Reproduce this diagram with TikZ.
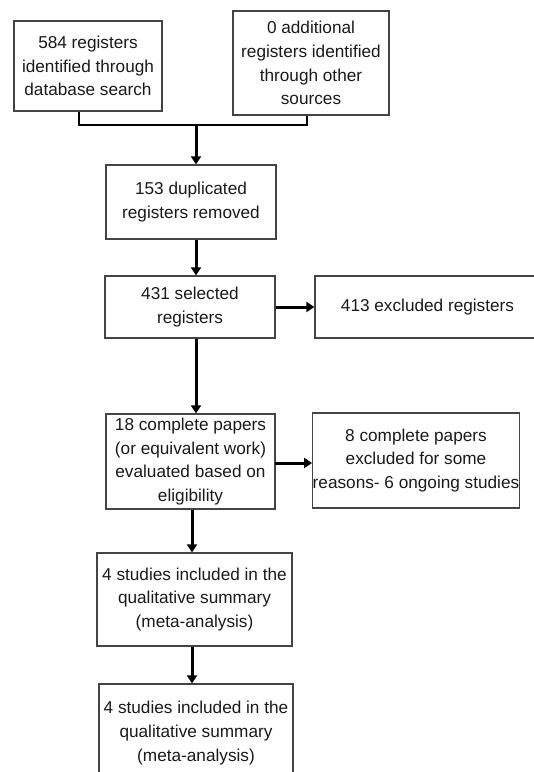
\documentclass[tikz,border=0pt]{standalone}
\usepackage{fontspec}
\setmainfont{Liberation Sans}
\usetikzlibrary{arrows.meta,calc}
\definecolor{txt}{HTML}{1a1a1a}
\definecolor{bord}{HTML}{444444}
\begin{document}
\begin{tikzpicture}[x=1pt,y=-1pt,
  box/.style={draw=bord,line width=1.3pt,rectangle,inner sep=0pt,align=center,
    text=txt,font=\fontsize{17.2}{23.8}\selectfont},
  arr/.style={line width=3pt,-{Triangle[width=10pt,length=8pt]}},
  joinline/.style={line width=2.2pt}]
\useasboundingbox (0,0) rectangle (534,772);
\fill[white] (0,0) rectangle (534,772);
\clip (0,0) rectangle (534,772);
\node[box,minimum width=148pt,minimum height=90pt] (A) at (88,66)
  {584 registers\\identified through\\database search};
\node[box,minimum width=156pt,minimum height=104pt] (B) at (311,63)
  {0 additional\\registers identified\\through other\\sources};
\node[box,minimum width=170pt,minimum height=74pt] (C) at (191,202)
  {153 duplicated\\registers removed};
\node[box,minimum width=170pt,minimum height=62pt] (D) at (190,307)
  {431 selected\\registers};
\node[box,minimum width=225pt,minimum height=62pt] (E) at (427.5,307)
  {413 excluded registers};
\node[box,minimum width=169pt,minimum height=95pt] (F) at (190.5,461.5)
  {18 complete papers\\(or equivalent work)\\evaluated based on\\eligibility};
\node[box,minimum width=204pt,minimum height=95pt] (G) at (416,460.5)
  {8 complete papers\\excluded for some\\reasons- 6 ongoing studies};
\node[box,minimum width=195pt,minimum height=93pt] (H) at (194.5,599.5)
  {4 studies included in the\\qualitative summary\\(meta-analysis)};
\node[box,minimum width=194pt,minimum height=98pt] (I) at (196,733)
  {4 studies included in the\\qualitative summary\\(meta-analysis)};
\coordinate (jl) at (79,125);
\coordinate (jr) at (307,125);
\coordinate (jm) at (196,125);
\coordinate (jmt) at (196,124);
\coordinate (k) at (192,0);
\coordinate (fg) at (275,463);
\draw[joinline] (A.south -| jl) -- (jl) -- (jr) -- (B.south -| jr);
\draw[arr] (jmt) -- (C.north -| jm);
\draw[arr] (C.south -| jm) -- (D.north -| jm);
\draw[arr] (D.east) -- (E.west);
\draw[arr] (D.south -| jm) -- (F.north -| jm);
\draw[arr] (fg) -- (fg -| G.west);
\draw[arr] (F.south -| k) -- (H.north -| k);
\draw[arr] (H.south -| k) -- (I.north -| k);
\end{tikzpicture}
\end{document}
